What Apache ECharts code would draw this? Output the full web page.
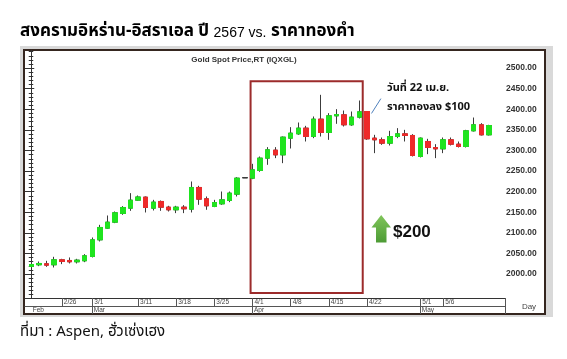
<!DOCTYPE html>
<html>
<head>
<meta charset="utf-8">
<script src="https://cdn.jsdelivr.net/npm/echarts@6.0.0/dist/echarts.min.js"></script>
<style>
html,body{margin:0;padding:0;background:#fff;}
#chart{width:567px;height:359px;}
</style>
</head>
<body>
<div id="chart"></div>
<script>
// ---- data (trading days, gold spot price, USD/oz) ----
var dates = ['2/20','2/21','2/22','2/23','2/26','2/27','2/28','2/29',
  '3/1','3/4','3/5','3/6','3/7','3/8','3/11','3/12','3/13','3/14','3/15','3/18','3/19','3/20','3/21','3/22','3/25','3/26','3/27','3/28','3/29',
  '4/1','4/2','4/3','4/4','4/5','4/8','4/9','4/10','4/11','4/12','4/15','4/16','4/17','4/18','4/19','4/22','4/23','4/24','4/25','4/26','4/29','4/30',
  '5/1','5/2','5/3','5/6','5/7','5/8','5/9','5/10','5/13','5/14'];
var openP  = [2018.5,2022.6,2025.0,2022.6,2034.7,2033.1,2029.9,2032.3,
  2042.8,2083.2,2111.6,2126.1,2147.2,2160.1,2179.5,2186.8,2160.1,2176.3,2162.5,2156.1,2162.5,2157.7,2210.3,2182.8,2164.1,2170.6,2178.7,2194.1,2234.0,
  2232.9,2251.5,2281.5,2300.9,2289.5,2330.0,2340.5,2354.3,2334.0,2376.1,2343.7,2384.2,2386.6,2362.4,2381.0,2394.7,2330.0,2326.0,2317.9,2334.0,2340.5,2336.5,
  2285.5,2321.9,2307.3,2304.1,2326.0,2315.4,2309.8,2347.8,2362.4,2338.1];
var closeP = [2023.3,2025.8,2021.8,2034.7,2030.6,2029.9,2033.9,2044.4,
  2083.2,2113.2,2126.1,2148.8,2161.7,2179.5,2187.2,2161.7,2174.7,2162.5,2156.1,2162.5,2158.5,2210.3,2182.0,2165.8,2173.8,2180.3,2196.5,2232.9,2234.0,
  2253.1,2281.5,2301.7,2289.5,2332.4,2342.1,2354.3,2334.0,2376.1,2343.7,2384.2,2387.4,2362.4,2381.0,2393.9,2328.4,2326.0,2317.9,2334.0,2340.5,2336.5,2287.9,
  2330.0,2307.3,2304.1,2326.0,2315.4,2309.8,2347.8,2362.4,2338.1,2360.7];
var lowP   = [2014.6,2019.3,2017.7,2016.1,2024.2,2025.8,2025.8,2029.0,
  2040.4,2079.2,2109.9,2123.7,2143.9,2153.6,2177.9,2149.6,2154.4,2153.6,2152.0,2148.0,2148.0,2149.6,2168.2,2156.1,2162.5,2168.2,2174.7,2188.4,2234.0,
  2230.5,2248.3,2265.3,2281.5,2269.3,2304.9,2338.1,2321.9,2330.0,2334.0,2325.9,2364.8,2358.3,2359.9,2377.7,2326.0,2293.6,2313.8,2312.2,2330.0,2321.9,2285.5,
  2283.1,2291.2,2281.5,2293.6,2312.2,2307.3,2307.3,2346.2,2336.5,2336.5];
var highP  = [2030.6,2030.6,2032.3,2042.0,2037.1,2040.4,2037.1,2048.5,
  2088.9,2119.6,2142.3,2152.0,2165.0,2196.5,2190.8,2188.4,2180.3,2178.7,2165.8,2165.8,2167.4,2224.8,2214.3,2188.4,2180.3,2200.5,2200.5,2235.3,2234.0,
  2267.7,2285.5,2308.2,2308.2,2334.0,2356.7,2368.0,2359.9,2382.6,2435.2,2390.7,2400.4,2397.1,2394.7,2421.4,2395.5,2338.1,2331.6,2347.8,2354.3,2350.2,2339.7,
  2331.6,2328.4,2315.4,2331.6,2331.6,2321.9,2350.2,2380.1,2366.4,2362.4];

// ---- tick labels ----
var dateTickLabels = ['2/26','3/1','3/11','3/18','3/25','4/1','4/8','4/15','4/22','5/1','5/6'];
var monthLabels = ['Feb','Mar','Apr','May'];
var monthStartDates = ['2/20','3/1','4/1','5/1'];
var priceTicks = [2000,2050,2100,2150,2200,2250,2300,2350,2400,2450,2500];
var priceMinorTicks = [];
for (var p = 1950; p <= 2540; p += 10) priceMinorTicks.push(p);

// ---- texts ----
var titleThaiA = 'สงครามอิหร่าน-อิสราเอล ปี ';
var titleNum = '2567 vs.';
var titleThaiB = ' ราคาทองคำ';
var chartName = 'Gold Spot Price,RT (IQXGL)';
var noteLine1 = 'วันที่ 22 เม.ย.';
var noteLine2 = 'ราคาทองลง $100';
var gainLabel = '$200';
var sourceText = 'ที่มา : Aspen, ฮั่วเซ่งเฮง';
var periodLabel = 'Day';

// ---- layout constants ----
var GREEN = '#1fe41f', RED = '#ee2a2a', WICK = '#3c3c3c';
var X_MIN = -0.82, X_MAX = 62.1, Y_MIN = 1942, Y_MAX = 2544;
var THAI = "'Noto Sans Thai','Noto Sans Thai UI','Noto Sans','DejaVu Sans',sans-serif";
var LAT = "'Liberation Sans',Arial,sans-serif";

function idx(d){ return dates.indexOf(d); }
var dateTickIdx = dateTickLabels.map(idx);
var monthIdx = monthStartDates.map(idx);

var wickData = dates.map(function(d,i){ return [i, openP[i], closeP[i], lowP[i], highP[i]]; });
var bodyData = dates.map(function(d,i){ return [i, openP[i], closeP[i], Math.min(openP[i],closeP[i]), Math.max(openP[i],closeP[i])]; });

var boxStart = idx('4/1') - 0.25, boxEnd = idx('4/19') + 0.45;

var chart = echarts.init(document.getElementById('chart'), null, {renderer:'canvas'});
var option = {
  animation:false,
  backgroundColor:'#fff',
  grid:{left:25, top:50, width:480, height:248, containLabel:false, outerBoundsMode:'none'},
  xAxis:[
    {type:'value', min:X_MIN, max:X_MAX, position:'bottom',
     axisLine:{show:true,onZero:false,lineStyle:{color:'#333',width:1}},
     axisTick:{show:false}, axisLabel:{show:false}, splitLine:{show:false}},
    {type:'value', min:X_MIN, max:X_MAX, position:'bottom',
     axisLine:{show:false,onZero:false},
     axisTick:{show:true, customValues: dateTickIdx.concat([X_MAX]), length:8, lineStyle:{color:'#555',width:1}},
     axisLabel:{show:true, customValues: dateTickIdx, formatter:function(v){return dates[Math.round(v)];},
       align:'left', margin:1, padding:[0,0,0,2], fontSize:6.5, color:'#444', fontFamily:LAT},
     splitLine:{show:false}},
    {type:'value', min:X_MIN, max:X_MAX, position:'bottom', offset:8,
     axisLine:{show:true,onZero:false,lineStyle:{color:'#555',width:1}},
     axisTick:{show:true, customValues: monthIdx.slice(1).concat([X_MAX]), length:8, lineStyle:{color:'#555',width:1}},
     axisLabel:{show:true, customValues: monthIdx, formatter:function(v){return monthLabels[monthIdx.indexOf(Math.round(v))];},
       align:'left', margin:1, padding:[0,0,0,1.5], fontSize:6.5, color:'#444', fontFamily:LAT},
     splitLine:{show:false}}
  ],
  yAxis:[
    {type:'value', position:'right', min:Y_MIN, max:Y_MAX,
     axisLine:{show:true, lineStyle:{color:'#333',width:1}},
     axisTick:{show:true, customValues:priceTicks, length:3, lineStyle:{color:'#333'}},
     axisLabel:{show:true, customValues:priceTicks, formatter:function(v){return v.toFixed(2);},
       margin:1, fontSize:8.5, fontWeight:'bold', color:'#333', fontFamily:LAT},
     splitLine:{show:false}},
    {type:'value', position:'right', min:Y_MIN, max:Y_MAX,
     axisLine:{show:false},
     axisTick:{show:true, inside:true, customValues:priceMinorTicks, length:2.5, lineStyle:{color:'#333'}},
     axisLabel:{show:false}, splitLine:{show:false}},
    {type:'value', position:'left', min:Y_MIN, max:Y_MAX,
     axisLine:{show:false},
     axisTick:{show:true, inside:true, customValues:priceMinorTicks, length:2, lineStyle:{color:'#333'}},
     axisLabel:{show:false}, splitLine:{show:false}},
    {type:'value', position:'left', min:Y_MIN, max:Y_MAX,
     axisLine:{show:false},
     axisTick:{show:true, inside:true, customValues:priceTicks, length:4, lineStyle:{color:'#333'}},
     axisLabel:{show:false}, splitLine:{show:false}}
  ],
  series:[
    {type:'candlestick', name:'wick', xAxisIndex:0, yAxisIndex:0, barWidth:5,
     encode:{x:0, y:[1,2,3,4]}, data:wickData, silent:true,
     itemStyle:{color:GREEN, color0:RED, borderColor:WICK, borderColor0:WICK, borderColorDoji:WICK, borderWidth:1},
     markArea:{silent:true,
       itemStyle:{color:'rgba(0,0,0,0)', borderColor:'#9c2b2b', borderWidth:2},
       label:{show:false},
       data:[[{coord:[boxStart, 1954]},{coord:[boxEnd, 2468]}]]},
     markLine:{silent:true, symbol:['none','none'], label:{show:false},
       lineStyle:{color:'#4f81bd', width:1, type:'solid'},
       data:[[{coord:[idx('4/22')+0.6, 2390]},{coord:[idx('4/22')+1.83, 2426]}]]}
    },
    {type:'candlestick', name:'body', xAxisIndex:0, yAxisIndex:0, barWidth:5,
     encode:{x:0, y:[1,2,3,4]}, data:bodyData, silent:true,
     itemStyle:{color:GREEN, color0:RED, borderColor:GREEN, borderColor0:RED, borderColorDoji:WICK, borderWidth:1}
    }
  ],
  graphic:[
    {type:'rect', z:-20, silent:true, shape:{x:20,y:46,width:533,height:271}, style:{fill:'#d9d9d9'}},
    {type:'rect', z:-19, silent:true, shape:{x:24,y:50,width:521,height:264}, style:{fill:'#fff', stroke:'#35261f', lineWidth:2}},
    {type:'text', x:20, y:33, silent:true, style:{
      text:'{a|'+titleThaiA+'}{b|'+titleNum+'}{a|'+titleThaiB+'}',
      rich:{a:{fontSize:17, fontWeight:'bold', fontFamily:THAI, fill:'#000'},
            b:{fontSize:14, fontWeight:'normal', fontFamily:LAT, fill:'#000'}},
      verticalAlign:'middle', align:'left'}},
    {type:'text', x:244, y:60, silent:true, style:{text:chartName, font:'bold 8px '+LAT, fill:'#333', align:'center', verticalAlign:'middle'}},
    {type:'text', x:529, y:306.5, silent:true, style:{text:periodLabel, font:'8px '+LAT, fill:'#444', align:'center', verticalAlign:'middle'}},
    {type:'text', x:387, y:88.5, silent:true, style:{text:noteLine1, font:'bold 11px '+THAI, fill:'#111', align:'left', verticalAlign:'middle'}},
    {type:'text', x:387, y:107.5, silent:true, style:{text:noteLine2, font:'bold 11px '+THAI, fill:'#111', align:'left', verticalAlign:'middle'}},
    {type:'polygon', silent:true, shape:{points:[[381.2,215],[391,227.5],[386.5,227.5],[386.5,242.5],[376,242.5],[376,227.5],[371.5,227.5]]},
     style:{fill:new echarts.graphic.LinearGradient(0,0,0,1,[{offset:0,color:'#80c55a'},{offset:1,color:'#4d9b35'}])}},
    {type:'text', x:393, y:232, silent:true, style:{text:gainLabel, font:'bold 17px '+LAT, fill:'#111', align:'left', verticalAlign:'middle'}},
    {type:'text', x:20, y:333, silent:true, style:{text:sourceText, font:'15px '+THAI, fill:'#111', align:'left', verticalAlign:'middle'}}
  ]
};
chart.setOption(option);
</script>
</body>
</html>
